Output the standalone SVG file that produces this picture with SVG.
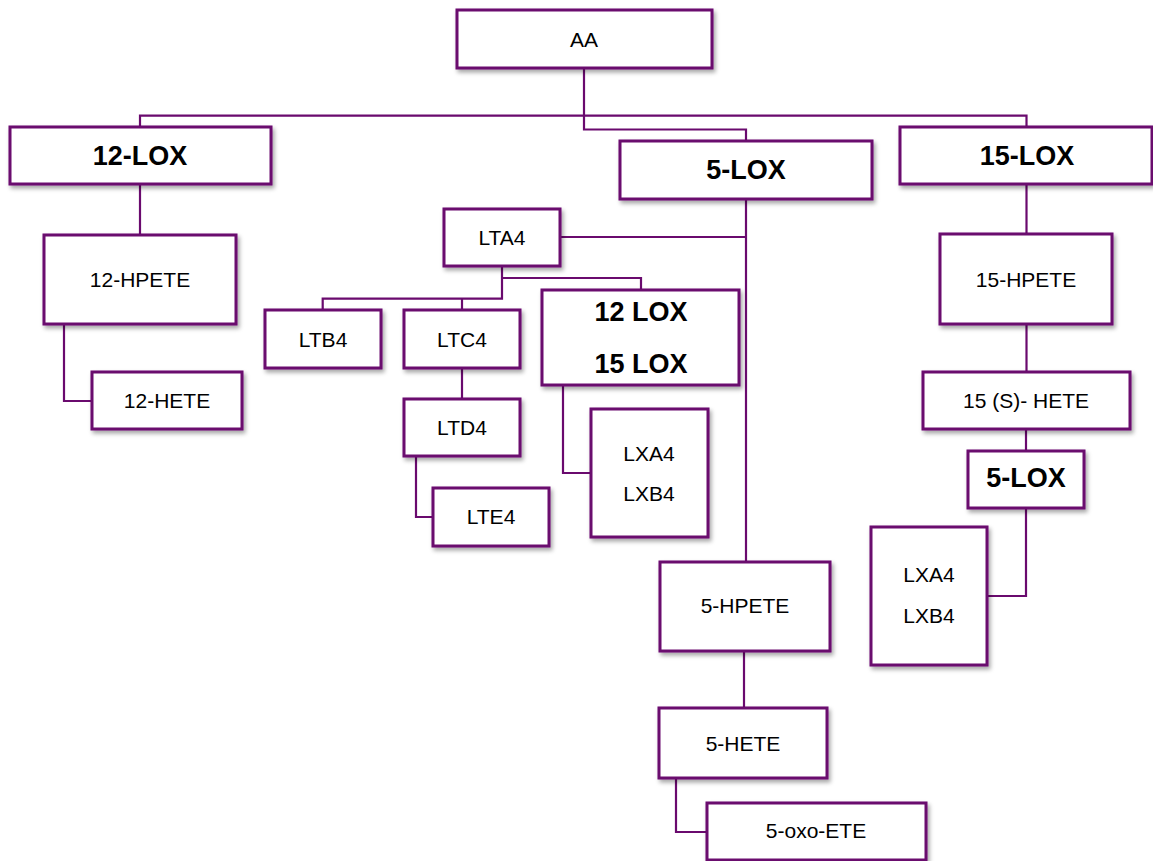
<svg xmlns="http://www.w3.org/2000/svg" width="1153" height="861" viewBox="0 0 1153 861">
<style>
  .box { fill: #ffffff; stroke: #6a0a6e; stroke-width: 3; filter: url(#sh); }
  .t { font-family: "Liberation Sans", Arial, sans-serif; font-size: 21px; fill: #000; text-anchor: middle; }
  .b { font-family: "Liberation Sans", Arial, sans-serif; font-size: 27px; font-weight: bold; fill: #000; text-anchor: middle; }
  .c { fill: none; stroke: #6a0a6e; stroke-width: 2.2; }
</style>
<defs>
  <filter id="sh" x="-10%" y="-10%" width="130%" height="140%">
    <feDropShadow dx="2" dy="3" stdDeviation="2" flood-color="#000" flood-opacity="0.35"/>
  </filter>
</defs>
<rect width="1153" height="861" fill="#ffffff"/>
<g id="connectors">
  <path class="c" d="M584,68 V129.5 H746 V141"/>
  <path class="c" d="M140,127 V115.7 H1026.5 V127"/>
  <path class="c" d="M140,184 V235"/>
  <path class="c" d="M64,324 V401 H92"/>
  <path class="c" d="M746,199 V562"/>
  <path class="c" d="M560,237 H746"/>
  <path class="c" d="M502,266 V298.7 H322.7 V310"/>
  <path class="c" d="M462,298.7 V310"/>
  <path class="c" d="M502,278 H641 V290"/>
  <path class="c" d="M462,368 V399"/>
  <path class="c" d="M416,456 V517 H433"/>
  <path class="c" d="M563,385 V473 H591"/>
  <path class="c" d="M1026.5,184 V234"/>
  <path class="c" d="M1026.5,324 V372"/>
  <path class="c" d="M1026,429 V451"/>
  <path class="c" d="M1026,508 V596 H987"/>
  <path class="c" d="M744,651 V708"/>
  <path class="c" d="M676,778 V832 H707"/>
</g>
<g id="AA"><rect class="box" x="457" y="10" width="255" height="58"/><text class="t" x="584" y="47">AA</text></g>
<g id="LOX12"><rect class="box" x="10" y="127" width="261" height="57"/><text class="b" x="140" y="165">12-LOX</text></g>
<g id="LOX5"><rect class="box" x="620" y="141" width="252" height="58"/><text class="b" x="746" y="179">5-LOX</text></g>
<g id="LOX15"><rect class="box" x="900" y="127" width="252" height="57"/><text class="b" x="1027" y="165">15-LOX</text></g>
<g id="HPETE12"><rect class="box" x="44" y="235" width="192" height="89"/><text class="t" x="140" y="287">12-HPETE</text></g>
<g id="HETE12"><rect class="box" x="92" y="372" width="150" height="57"/><text class="t" x="167" y="408">12-HETE</text></g>
<g id="LTA4"><rect class="box" x="444" y="209" width="116" height="57"/><text class="t" x="502" y="245">LTA4</text></g>
<g id="LTB4"><rect class="box" x="265" y="310" width="116" height="58"/><text class="t" x="323" y="347">LTB4</text></g>
<g id="LTC4"><rect class="box" x="404" y="310" width="116" height="58"/><text class="t" x="462" y="347">LTC4</text></g>
<g id="LTD4"><rect class="box" x="404" y="399" width="116" height="57"/><text class="t" x="462" y="435">LTD4</text></g>
<g id="LTE4"><rect class="box" x="433" y="488" width="116" height="58"/><text class="t" x="491" y="524">LTE4</text></g>
<g id="LOX1215"><rect class="box" x="542" y="290" width="197" height="95"/><text class="b" x="641" y="321">12 LOX</text><text class="b" x="641" y="373">15 LOX</text></g>
<g id="LX1"><rect class="box" x="591" y="409" width="117" height="128"/><text class="t" x="649" y="461">LXA4</text><text class="t" x="649" y="501">LXB4</text></g>
<g id="HPETE15"><rect class="box" x="940" y="234" width="172" height="90"/><text class="t" x="1026" y="287">15-HPETE</text></g>
<g id="HETE15S"><rect class="box" x="923" y="372" width="207" height="57"/><text class="t" x="1026" y="408">15 (S)- HETE</text></g>
<g id="LOX5b"><rect class="box" x="968" y="451" width="116" height="57"/><text class="b" x="1026" y="487">5-LOX</text></g>
<g id="LX2"><rect class="box" x="871" y="527" width="116" height="138"/><text class="t" x="929" y="582">LXA4</text><text class="t" x="929" y="623">LXB4</text></g>
<g id="HPETE5"><rect class="box" x="660" y="562" width="170" height="89"/><text class="t" x="745" y="613">5-HPETE</text></g>
<g id="HETE5"><rect class="box" x="659" y="708" width="168" height="70"/><text class="t" x="743" y="751">5-HETE</text></g>
<g id="oxoETE"><rect class="box" x="707" y="803" width="219" height="57"/><text class="t" x="816" y="838">5-oxo-ETE</text></g>
</svg>
